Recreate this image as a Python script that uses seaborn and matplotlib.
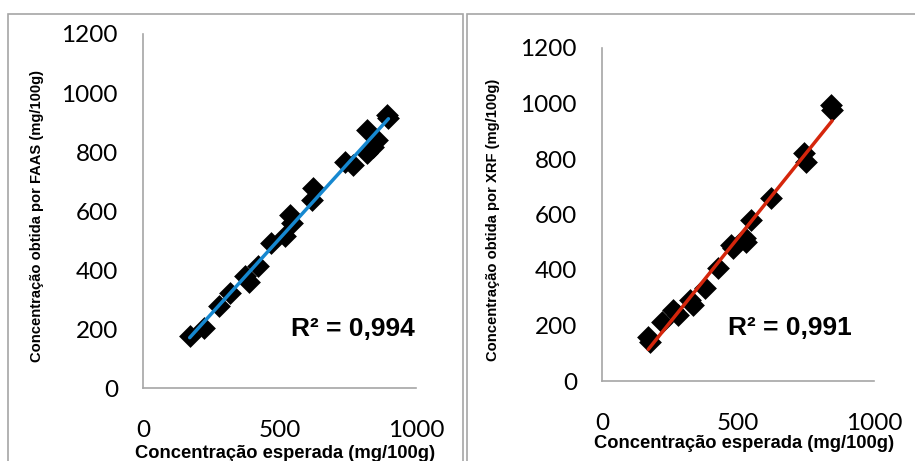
import numpy as np
import pandas as pd
import matplotlib
matplotlib.use("Agg")
import matplotlib.pyplot as plt
from matplotlib.patches import Rectangle
import seaborn as sns

# ── Dados ─────────────────────────────────────────────────────────────────────
faas_esperada = [171, 224, 277, 317, 374, 387, 423, 468, 521, 539, 545,
                 618, 624, 740, 771, 820, 820, 844, 856, 893, 899]
faas_obtida   = [175, 203, 279, 322, 378, 361, 412, 491, 514, 587, 559,
                 638, 677, 767, 756, 875, 796, 818, 841, 925, 914]

xrf_esperada = [170, 176, 219, 262, 280, 323, 335, 377, 426, 476, 482,
                525, 531, 549, 622, 744, 751, 843, 846]
xrf_obtida   = [160, 142, 214, 256, 238, 292, 274, 334, 406, 490, 478,
                514, 502, 580, 658, 820, 790, 994, 976]

paineis = [
    dict(x=faas_esperada, y=faas_obtida, cor="#1688d0", r2="R² = 0,994",
         ylabel="Concentração obtida por FAAS (mg/100g)"),
    dict(x=xrf_esperada, y=xrf_obtida, cor="#d5260c", r2="R² = 0,991",
         ylabel="Concentração obtida por XRF (mg/100g)"),
]
XLABEL = "Concentração esperada (mg/100g)"

# ── Figura ────────────────────────────────────────────────────────────────────
sns.set_style("white")
plt.rcParams["font.family"] = ["Lato", "DejaVu Sans"]

W, H = 915, 461
fig = plt.figure(figsize=(W / 100, H / 100), dpi=100)

cinza = "#a6a6a6"
# molduras dos dois gráficos (estilo Excel)
for x0, x1 in [(8, 463), (467, 930)]:
    fig.patches.append(Rectangle((x0 / W, -0.1), (x1 - x0) / W, 1.1 - 14 / H,
                                 transform=fig.transFigure, fill=False,
                                 edgecolor=cinza, linewidth=1.2))

posicoes = [(143, 416, 388, 34), (602, 874, 381, 48)]   # px: x0, x1, y0, y1
ylab_x = [37, 493]
xlab_y = [453, 443]
r2_pos = [(353, 329), (790, 328)]

for i, (p, (px0, px1, py0, py1)) in enumerate(zip(paineis, posicoes)):
    ax = fig.add_axes([px0 / W, 1 - py0 / H, (px1 - px0) / W, (py0 - py1) / H])
    df = pd.DataFrame({"esperada": p["x"], "obtida": p["y"]})
    sns.regplot(data=df, x="esperada", y="obtida", ax=ax, ci=None,
                marker="D", scatter_kws={"s": 135, "color": "black", "alpha": 1,
                                         "zorder": 2, "linewidths": 0},
                line_kws={"color": p["cor"], "linewidth": 2.5, "zorder": 3})
    ax.set_xlim(0, 1000)
    ax.set_ylim(0, 1200)
    ax.set_xticks([0, 500, 1000])
    ax.set_yticks(range(0, 1201, 200))
    ax.set_xlabel("")
    ax.set_ylabel("")
    for s in ["top", "right"]:
        ax.spines[s].set_visible(False)
    for s in ["left", "bottom"]:
        ax.spines[s].set_color(cinza)
        ax.spines[s].set_linewidth(1.2)
    ax.tick_params(axis="both", direction="out", length=6, width=1.2,
                   color=cinza, labelsize=17.5, labelcolor="black")
    ax.tick_params(axis="y", pad=12)
    ax.tick_params(axis="x", pad=17)

    fig.text(ylab_x[i] / W, 1 - ((py0 + py1) / 2 + 5) / H, p["ylabel"],
             rotation=90, ha="center", va="center", fontsize=10.6,
             fontweight="bold", color="black",
             family=["Liberation Sans", "DejaVu Sans"])
    fig.text(((px0 + px1) / 2 + 6) / W, 1 - xlab_y[i] / H, XLABEL,
             ha="center", va="center", fontsize=13.2, fontweight="bold",
             color="black", family=["Liberation Sans", "DejaVu Sans"])
    fig.text(r2_pos[i][0] / W, 1 - r2_pos[i][1] / H, p["r2"],
             ha="center", va="center", fontsize=19, fontweight="bold",
             color="black", family=["Liberation Sans", "DejaVu Sans"])

fig.savefig("out.png", dpi=100)
